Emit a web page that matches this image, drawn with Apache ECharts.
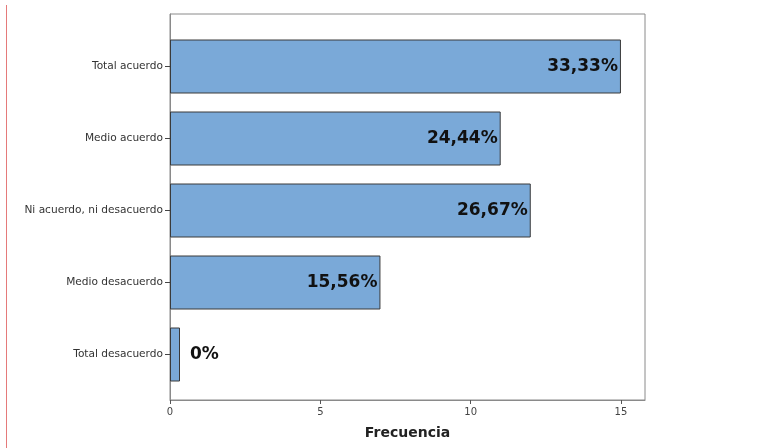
<!DOCTYPE html>
<html>
<head>
<meta charset="utf-8">
<script src="https://cdn.jsdelivr.net/npm/echarts@6/dist/echarts.min.js"></script>
<style>
  html, body { margin: 0; padding: 0; background: #fff; }
  #chart { width: 760px; height: 448px; }
</style>
</head>
<body>
<div id="chart"></div>
<script>
// Response categories, listed top to bottom
const categories = ['Total acuerdo', 'Medio acuerdo', 'Ni acuerdo, ni desacuerdo', 'Medio desacuerdo', 'Total desacuerdo'];
// Frequency of each response
const frequencies = [15, 11, 12, 7, 0];
// Frequency axis range and step
const axisMax = 15.8;
const axisStep = 5;

const total = frequencies.reduce((a, b) => a + b, 0);
function pctLabel(v) {
  if (v === 0) return '0%';
  return (v / total * 100).toFixed(2).replace('.', ',') + '%';
}

const chart = echarts.init(document.getElementById('chart'), null, { renderer: 'canvas' });

const labelFont = { fontFamily: 'DejaVu Sans', fontWeight: 'bold', fontSize: 17, color: '#111' };

chart.setOption({
  animation: false,
  backgroundColor: '#fff',
  grid: [
    // bars
    { left: 170, right: 115, top: 30.5, bottom: 57.5 },
    // frame and frequency axis
    { left: 170, right: 115, top: 14, bottom: 48, show: true, borderColor: '#8a8a8a', borderWidth: 1, backgroundColor: 'transparent' }
  ],
  xAxis: [
    { gridIndex: 0, type: 'value', min: 0, max: axisMax, interval: axisStep, show: false },
    {
      gridIndex: 1, type: 'value', min: 0, max: axisMax, interval: axisStep,
      axisLine: { show: true, lineStyle: { color: '#8a8a8a', width: 1 } },
      axisTick: { show: true, length: 4, lineStyle: { color: '#555' } },
      axisLabel: { show: true, margin: 7, fontFamily: 'DejaVu Sans', fontSize: 10, color: '#444', showMaxLabel: false },
      splitLine: { show: false },
      name: 'Frecuencia', nameLocation: 'middle', nameGap: 26,
      nameTextStyle: { fontFamily: 'DejaVu Sans', fontWeight: 'bold', fontSize: 14, color: '#222' }
    }
  ],
  yAxis: [
    {
      gridIndex: 0, type: 'category', data: categories, inverse: true,
      axisLine: { show: false },
      axisTick: { show: true, alignWithLabel: true, length: 5, lineStyle: { color: '#444' } },
      axisLabel: { margin: 7, fontFamily: 'DejaVu Sans', fontSize: 10.6, color: '#333' },
      splitLine: { show: false }
    },
    {
      gridIndex: 1, type: 'value', min: 0, max: 1,
      axisLine: { show: true, lineStyle: { color: '#8a8a8a', width: 1 } },
      axisTick: { show: false }, axisLabel: { show: false }, splitLine: { show: false }
    }
  ],
  series: [{
    type: 'bar',
    xAxisIndex: 0,
    yAxisIndex: 0,
    barWidth: 54,
    barMinHeight: 10,
    itemStyle: { color: '#7aa9d8', borderColor: '#3a3a3a', borderWidth: 1 },
    label: {
      show: true, position: 'insideRight', distance: 3,
      formatter: p => pctLabel(p.value),
      ...labelFont
    },
    data: frequencies.map(v => v === 0
      ? { value: v, label: { position: 'right', distance: 10 } }
      : { value: v })
  }],
  graphic: [{
    type: 'line',
    shape: { x1: 6.5, y1: 5, x2: 6.5, y2: 448 },
    style: { stroke: '#e57a7a', lineWidth: 1 }
  }]
});
</script>
</body>
</html>
